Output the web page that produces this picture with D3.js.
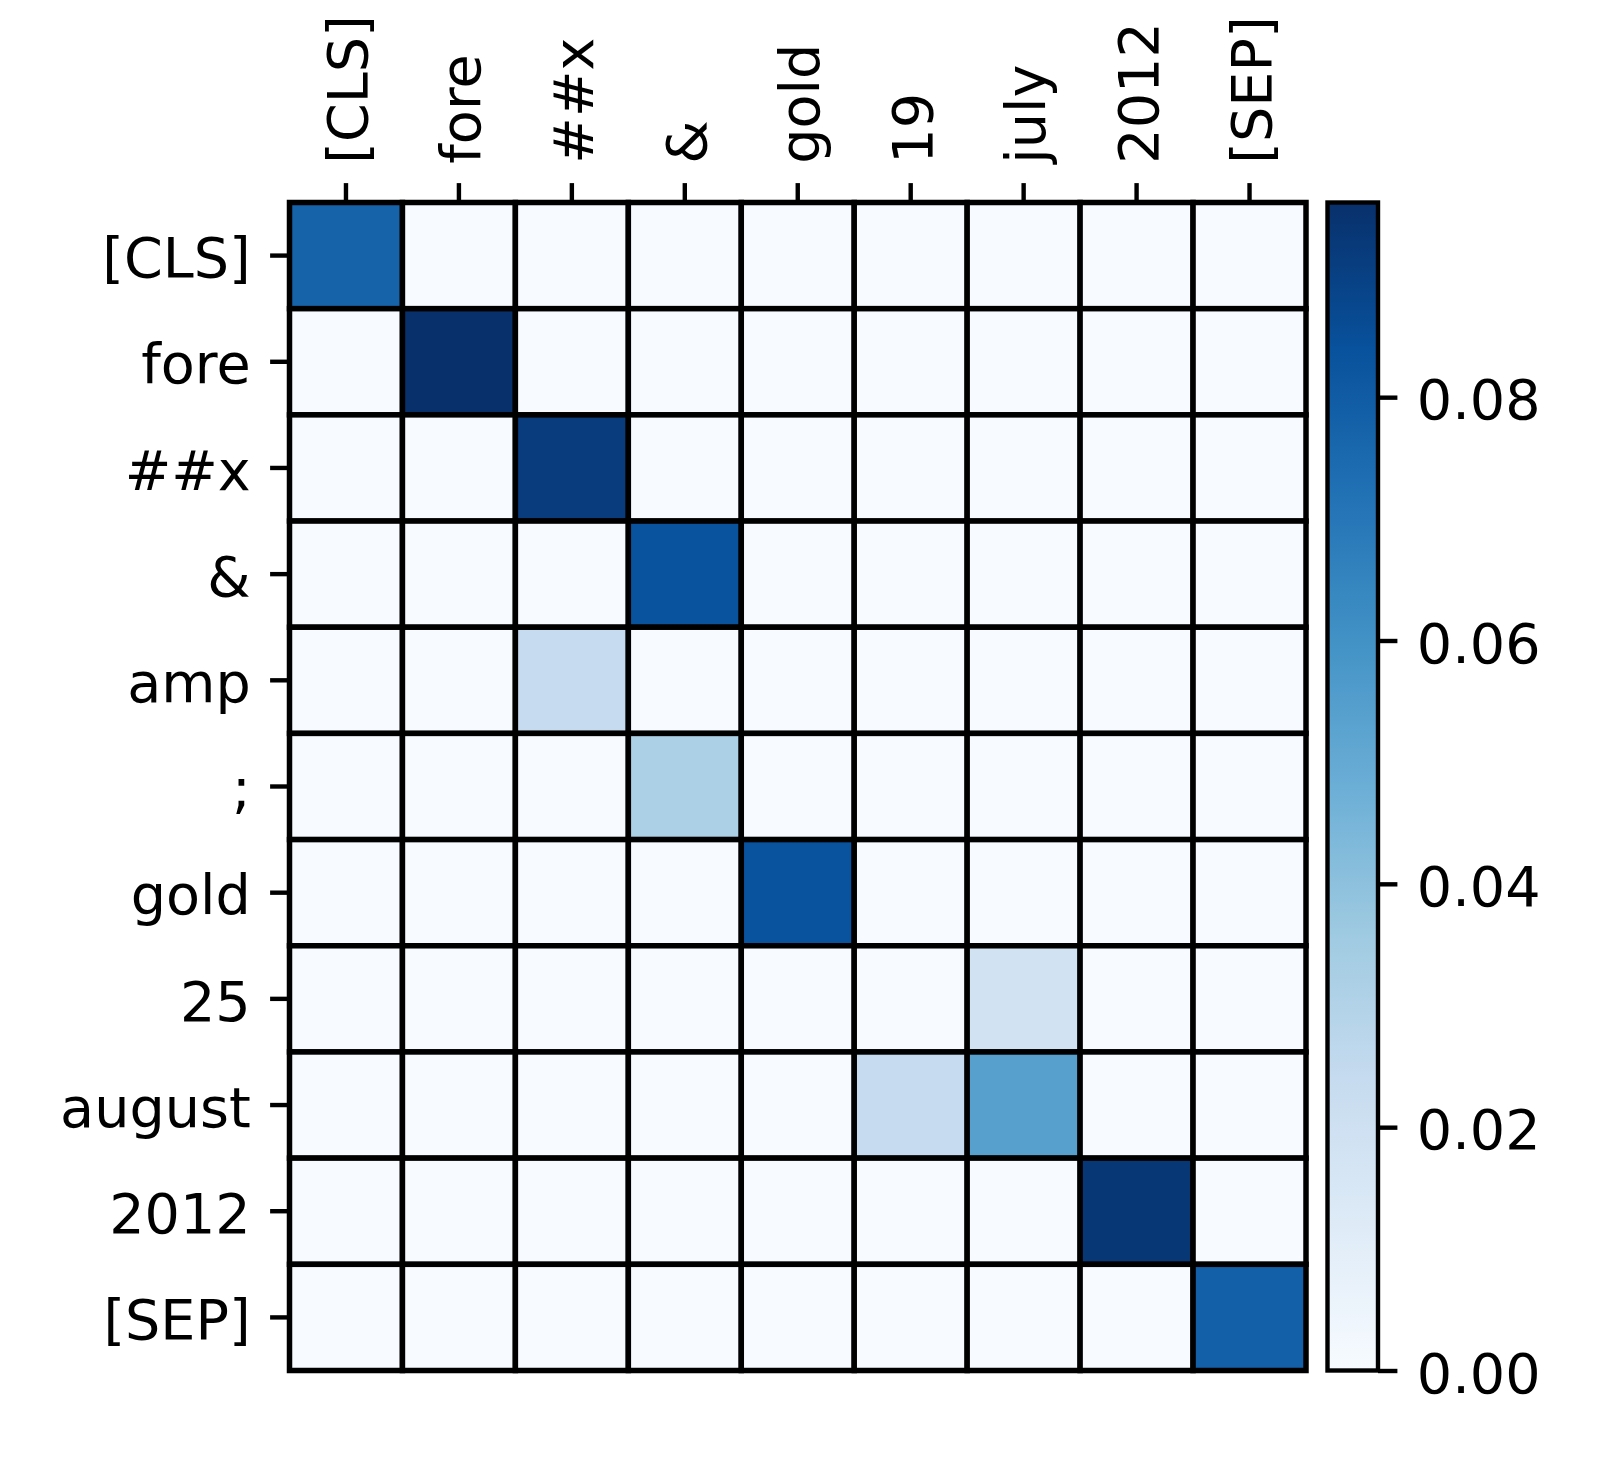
<!DOCTYPE html>
<html>
<head>
<meta charset="utf-8">
<script src="https://cdn.jsdelivr.net/npm/d3@7"></script>
<style>
  body { margin: 0; background: white; }
  text { font-family: "DejaVu Sans", sans-serif; fill: black; }
</style>
</head>
<body>
<script>
// tokens on each axis
let colTokens = ["[CLS]", "fore", "##x", "&", "gold", "19", "july", "2012", "[SEP]"];
let rowTokens = ["[CLS]", "fore", "##x", "&", "amp", ";", "gold", "25", "august", "2012", "[SEP]"];

// attention weights, one row per rowToken
let weights = [
  [0.0773, 0, 0, 0, 0, 0, 0, 0, 0],
  [0, 0.0960, 0, 0, 0, 0, 0, 0, 0],
  [0, 0, 0.0917, 0, 0, 0, 0, 0, 0],
  [0, 0, 0, 0.0835, 0, 0, 0, 0, 0],
  [0, 0, 0.0240, 0, 0, 0, 0, 0, 0],
  [0, 0, 0, 0.0318, 0, 0, 0, 0, 0],
  [0, 0, 0, 0, 0.0835, 0, 0, 0, 0],
  [0, 0, 0, 0, 0, 0, 0.0187, 0, 0],
  [0, 0, 0, 0, 0, 0.0240, 0.0540, 0, 0],
  [0, 0, 0, 0, 0, 0, 0, 0.0934, 0],
  [0, 0, 0, 0, 0, 0, 0, 0, 0.0784]
];

let colorTicks = [0, 0.02, 0.04, 0.06, 0.08];

// matplotlib "Blues" stops
let bluesStops = ["#f7fbff", "#deebf7", "#c6dbef", "#9ecae1", "#6baed6", "#4292c6", "#2171b5", "#08519c", "#08306b"];

let width = 1600, height = 1464;
let plot = { left: 289.5, right: 1306, top: 202.5, bottom: 1370.5 };
let bar = { left: 1327.5, right: 1378 };
let fontSize = 55.6, tickLen = 19.4, pad = 19.4, lw = 4.4, cellLw = 5.5;

let svg = d3.select("body").append("svg")
  .attr("width", width)
  .attr("height", height);

let vmax = d3.max(weights, r => d3.max(r));

let xScale = d3.scaleBand().domain(colTokens).range([plot.left, plot.right]);
let yScale = d3.scaleBand().domain(rowTokens).range([plot.top, plot.bottom]);

let blues = d3.scaleLinear()
  .domain(bluesStops.map((c, i) => i / (bluesStops.length - 1)))
  .range(bluesStops)
  .clamp(true);
let color = v => blues(v / vmax);

// cells
let cells = [];
weights.forEach((row, i) => row.forEach((v, j) => cells.push({ r: rowTokens[i], c: colTokens[j], v: v })));

svg.append("g").selectAll("rect")
  .data(cells)
  .enter().append("rect")
  .attr("x", d => xScale(d.c))
  .attr("y", d => yScale(d.r))
  .attr("width", xScale.bandwidth())
  .attr("height", yScale.bandwidth())
  .attr("fill", d => color(d.v))
  .attr("stroke", "black")
  .attr("stroke-width", cellLw);

// left axis
let yAxis = svg.append("g")
  .attr("transform", `translate(${plot.left},0)`)
  .call(d3.axisLeft(yScale).tickSize(tickLen).tickPadding(pad));
yAxis.select(".domain").remove();
yAxis.selectAll("line").attr("stroke-width", lw);
yAxis.selectAll("text")
  .attr("font-size", fontSize)
  .attr("dy", "0.39em")
  .style("font-family", "DejaVu Sans");

// top axis, rotated labels
let xAxis = svg.append("g")
  .attr("transform", `translate(0,${plot.top})`)
  .call(d3.axisTop(xScale).tickSize(tickLen).tickPadding(pad));
xAxis.select(".domain").remove();
xAxis.selectAll("line").attr("stroke-width", lw);
xAxis.selectAll("text")
  .attr("font-size", fontSize)
  .style("font-family", "DejaVu Sans")
  .attr("transform", "rotate(-90)")
  .attr("x", tickLen + pad)
  .attr("y", 0)
  .attr("dy", "0.38em")
  .attr("text-anchor", "start");

// colorbar
let defs = svg.append("defs");
let grad = defs.append("linearGradient")
  .attr("id", "cbar")
  .attr("x1", 0).attr("y1", 1).attr("x2", 0).attr("y2", 0);
grad.selectAll("stop")
  .data(bluesStops)
  .enter().append("stop")
  .attr("offset", (d, i) => i / (bluesStops.length - 1))
  .attr("stop-color", d => d);

let cScale = d3.scaleLinear().domain([0, vmax]).range([plot.bottom, plot.top]);

svg.append("rect")
  .attr("x", bar.left)
  .attr("y", plot.top)
  .attr("width", bar.right - bar.left)
  .attr("height", plot.bottom - plot.top)
  .attr("fill", "url(#cbar)")
  .attr("stroke", "black")
  .attr("stroke-width", lw);

let cAxis = svg.append("g")
  .attr("transform", `translate(${bar.right},0)`)
  .call(d3.axisRight(cScale).tickValues(colorTicks).tickFormat(d3.format(".2f")).tickSize(tickLen).tickPadding(pad));
cAxis.select(".domain").remove();
cAxis.selectAll("line").attr("stroke-width", lw);
cAxis.selectAll("text")
  .attr("font-size", fontSize)
  .attr("dy", "0.39em")
  .style("font-family", "DejaVu Sans");
</script>
</body>
</html>
